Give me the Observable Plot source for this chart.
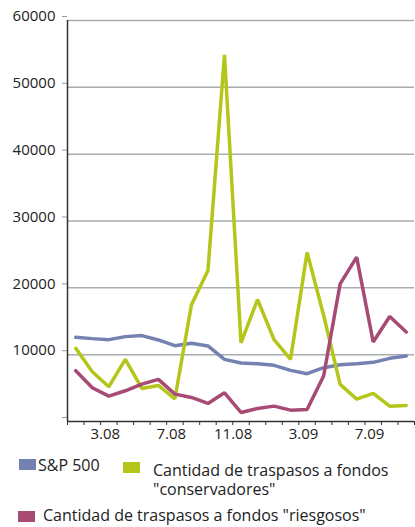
<!DOCTYPE html>
<html>
<head>
<meta charset="utf-8">
<script src="https://cdn.jsdelivr.net/npm/d3@7"></script>
<script src="https://cdn.jsdelivr.net/npm/@observablehq/plot@0.6"></script>
<style>
  html, body { margin: 0; padding: 0; background: #fff; }
  #wrap { position: relative; width: 415px; height: 527px; font-family: "Open Sans", sans-serif; color: #222; }
  .sw { position: absolute; width: 17px; height: 11px; }
  .lt { position: absolute; font-size: 16px; line-height: 19.5px; white-space: nowrap; }
</style>
</head>
<body>
<div id="wrap">
  <div id="chart"></div>
  <div id="legend"></div>
</div>
<script>
const months = ["1.08","2.08","3.08","4.08","5.08","6.08","7.08","8.08","9.08","10.08","11.08","12.08",
                "1.09","2.09","3.09","4.09","5.09","6.09","7.09","8.09","9.09"];
const tickLabels = ["3.08","7.08","11.08","3.09","7.09"];
const yTicks = [0, 10000, 20000, 30000, 40000, 50000, 60000];

const sp500 = [12600, 12400, 12250, 12700, 12850, 12200, 11350, 11700, 11300, 9300, 8750,
               8650, 8400, 7650, 7150, 8050, 8500, 8650, 8850, 9450, 9800];
const conservadores = [10950, 7450, 5200, 9300, 4950, 5400, 3400, 17450, 22600, 54850, 11750,
                       18250, 12250, 9300, 25300, 15900, 5550, 3350, 4200, 2300, 2400];
const riesgosos = [7600, 5050, 3800, 4600, 5600, 6300, 4100, 3600, 2700, 4300, 1350,
                   1950, 2300, 1700, 1800, 6800, 20600, 24600, 11900, 15700, 13400];

const seriesNames = ["S&P 500", "Cantidad de traspasos a fondos \"conservadores\"", "Cantidad de traspasos a fondos \"riesgosos\""];
const seriesColors = ["#7482b2", "#b4c61a", "#a84b74"];

const rows = [];
[sp500, conservadores, riesgosos].forEach((vals, s) =>
  vals.forEach((v, i) => rows.push({series: seriesNames[s], month: months[i], value: v})));

const monthIndex = new Map(months.map((m, i) => [m, i]));

const chart = Plot.plot({
  width: 415,
  height: 446,
  marginTop: 20,
  marginLeft: 67,
  marginRight: 1,
  marginBottom: 25,
  style: {fontFamily: "Open Sans, sans-serif", fontSize: "15px", background: "#fff"},
  x: {domain: [0, months.length], axis: null, label: null},
  y: {domain: [0, 60000], axis: null, label: null},
  color: {domain: seriesNames, range: seriesColors},
  marks: [
    Plot.gridY(yTicks.filter(d => d > 0), {stroke: "#a9acb0", strokeOpacity: 1, strokeWidth: 1.5}),
    Plot.axisY({ticks: yTicks, tickSize: 5, tickPadding: 7, stroke: "#999", fill: "#222", label: null,
                tickFormat: d => d === 0 ? "" : String(d), dy: -4, fontSize: 15}),
    Plot.axisX({ticks: d3.range(0, months.length + 1), tickSize: 4, stroke: "#333", label: null,
                tickFormat: () => ""}),
    Plot.axisX({ticks: tickLabels.map(t => monthIndex.get(t) + 1), tickSize: 0, tickPadding: 7,
                fill: "#222", textAnchor: "end", dx: 3, fontSize: 15, label: null,
                tickFormat: d => months[d - 1]}),
    Plot.ruleX([0], {stroke: "#333", strokeWidth: 1.5}),
    Plot.ruleY([0], {stroke: "#333", strokeWidth: 1.5}),
    Plot.line(rows, {x: d => monthIndex.get(d.month) + 0.5, y: "value", z: "series", stroke: "series",
                     strokeWidth: 3.5, strokeLinejoin: "miter"})
  ]
});
document.getElementById("chart").appendChild(chart);

// Legend (HTML below the SVG)
const legendItems = [
  {sw: [19, 458.5], tx: [38, 455.8], w: null},
  {sw: [123, 461.5], tx: [153, 460.8], w: 250},
  {sw: [18, 511], tx: [43, 505.8], w: null}
];
const legend = document.getElementById("legend");
seriesNames.forEach((name, k) => {
  const it = legendItems[k];
  const sw = document.createElement("div");
  sw.className = "sw";
  sw.style.left = it.sw[0] + "px";
  sw.style.top = it.sw[1] + "px";
  sw.style.background = seriesColors[k];
  legend.appendChild(sw);
  const t = document.createElement("div");
  t.className = "lt";
  t.style.left = it.tx[0] + "px";
  t.style.top = it.tx[1] + "px";
  if (it.w) { t.style.whiteSpace = "normal"; t.style.width = it.w + "px"; }
  t.textContent = name;
  legend.appendChild(t);
});
</script>
</body>
</html>
